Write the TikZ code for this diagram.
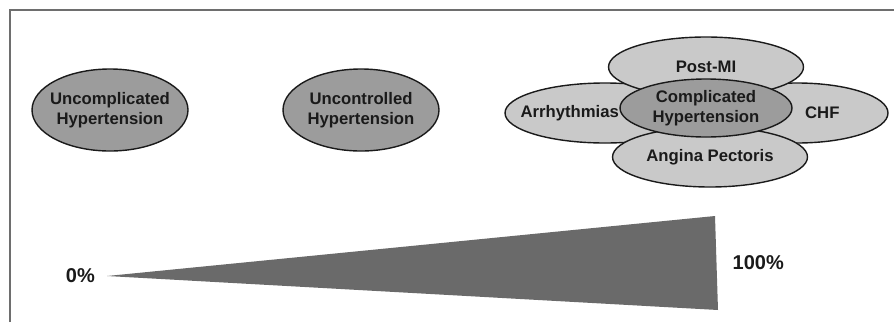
\documentclass[tikz,border=0pt]{standalone}
\usepackage{fontspec}
\setmainfont{Liberation Sans}
\usepackage{tikz}
\usetikzlibrary{positioning,shapes.geometric,calc}
\definecolor{HypFrame}{HTML}{6E6E6E}
\definecolor{HypMid}{HTML}{9C9C9C}
\definecolor{HypLight}{HTML}{C9C9C9}
\definecolor{HypWedge}{HTML}{6A6A6A}
\definecolor{HypInk}{HTML}{1A1A1A}
\tikzset{
  blob/.style={ellipse,draw=HypInk,line width=1.4pt,inner sep=0pt},
  midblob/.style={blob,fill=HypMid},
  petal/.style={blob,fill=HypLight},
  lbl/.style={align=center,inner sep=0pt,text=HypInk,font=\fontsize{16.7}{20}\selectfont\bfseries},
  pct/.style={inner sep=0pt,text=HypInk,font=\fontsize{20}{24}\selectfont\bfseries},
  frameline/.style={draw=HypFrame,line width=2pt}
}

\begin{document}
\begin{tikzpicture}[x=1pt,y=-1pt,node distance=12pt]
\useasboundingbox (0,0) rectangle (894,322);
\draw[frameline] (10,322)--(10,10)--(894,10);
% two single stages
\node[midblob,minimum width=156pt,minimum height=82pt] (unc) at (110,110) {};
\node[lbl] (uncT) at (unc) {Uncomplicated\\Hypertension};
\node[midblob,minimum width=156pt,minimum height=82pt] (ctl) at (361,110) {};
\node[lbl] (ctlT) at (ctl) {Uncontrolled\\Hypertension};
% flower of complications
\node[petal,minimum width=200pt,minimum height=60pt] (arr) at (605,113) {};
\node[petal,minimum width=182pt,minimum height=60pt] (chf) at (797,113) {};
\node[petal,minimum width=195pt,minimum height=60pt] (pmi) at (706,67) {};
\node[petal,minimum width=195pt,minimum height=60pt] (ang) at (710,157) {};
\node[midblob,minimum width=172pt,minimum height=58pt] (cpl) at (706,108) {};
\node[lbl,right=16pt of arr.west,anchor=west] (arrT) {Arrhythmias};
\node[lbl,left=49pt of chf.east,anchor=east] (chfT) {CHF};
\node[lbl] (pmiT) at (pmi) {Post-MI};
\node[lbl] (angT) at (ang) {Angina Pectoris};
\node[lbl] (cplT) at (cpl) {Complicated\\Hypertension};
% wedge
\coordinate (tip) at (107,276);
\coordinate (top) at (715,216);
\coordinate (bot) at (718,310);
\coordinate (rmid) at ($(top)!.5!(bot)$);
\fill[HypWedge] (tip)--(top)--(bot)--cycle;
\node[pct,left=12pt of tip] (zero) {0\%};
\node[pct,right=16pt of rmid] (full) {100\%};
\end{tikzpicture}
\end{document}
